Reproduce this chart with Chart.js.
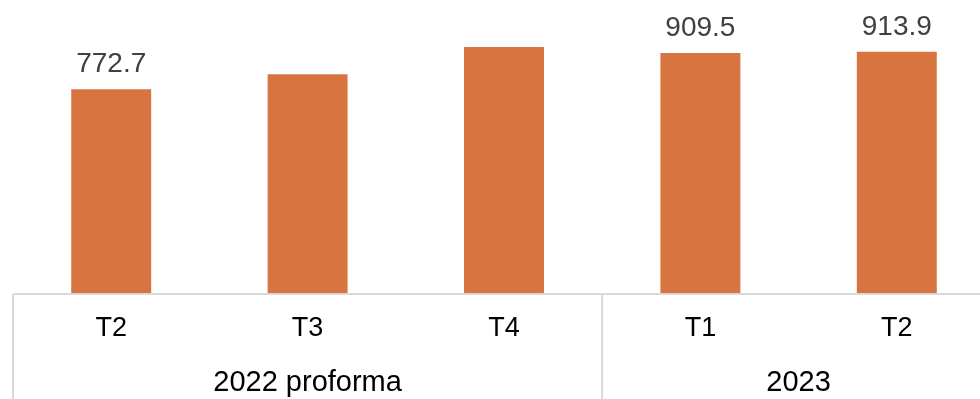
<!DOCTYPE html>
<html>
<head>
<meta charset="utf-8">
<script src="https://cdn.jsdelivr.net/npm/chart.js@4/dist/chart.umd.min.js"></script>
<style>
  html, body { margin: 0; padding: 0; background: #fff; overflow: hidden; }
  #wrap { width: 980px; height: 399px; overflow: hidden; }
</style>
</head>
<body>
<div id="wrap"><canvas id="chart" width="995" height="399"></canvas></div>
<script>
// quarters and their values
const quarters = ['T2', 'T3', 'T4', 'T1', 'T2'];
const values = [772.7, 829, 932, 909.5, 913.9];
// which bars carry a value label in the source
const showValue = [true, false, false, true, true];
// year groups: name and number of quarters in each
const groupNames = ['2022 proforma', '2023'];
const groupSizes = [3, 2];

const lineColor = '#d9d9d9';

const axisLabels = {
    id: 'axisLabels',
    afterDraw(chart) {
        const ctx = chart.ctx;
        const area = chart.chartArea;
        const x = chart.scales.x;
        const step = x.getPixelForValue(1) - x.getPixelForValue(0);
        const H = chart.height;

        ctx.save();
        // axis line and group borders
        ctx.strokeStyle = lineColor;
        ctx.lineWidth = 2;
        ctx.beginPath();
        ctx.moveTo(area.left, area.bottom);
        ctx.lineTo(area.right, area.bottom);
        let idx = 0;
        const edges = [area.left];
        groupSizes.forEach(n => {
            idx += n;
            edges.push(x.getPixelForValue(idx - 1) + step / 2);
        });
        edges.slice(0, -1).forEach(px => {
            ctx.moveTo(px, area.bottom);
            ctx.lineTo(px, H);
        });
        ctx.stroke();

        // quarter labels
        ctx.fillStyle = '#000';
        ctx.textAlign = 'center';
        ctx.textBaseline = 'middle';
        ctx.font = '27px "Liberation Sans", Arial, sans-serif';
        quarters.forEach((q, i) => {
            ctx.fillText(q, x.getPixelForValue(i), area.bottom + 35);
        });

        // group labels
        ctx.font = '29px "Liberation Sans", Arial, sans-serif';
        groupNames.forEach((g, i) => {
            ctx.fillText(g, (edges[i] + edges[i + 1]) / 2, area.bottom + 89);
        });

        // value labels
        const meta = chart.getDatasetMeta(0);
        ctx.fillStyle = '#404040';
        ctx.textBaseline = 'alphabetic';
        ctx.font = '28px "Liberation Sans", Arial, sans-serif';
        meta.data.forEach((bar, i) => {
            if (!showValue[i]) return;
            ctx.fillText(values[i].toFixed(1), bar.x, bar.y - 17);
        });
        ctx.restore();
    }
};

new Chart(document.getElementById('chart'), {
    type: 'bar',
    data: {
        labels: quarters,
        datasets: [{
            data: values,
            backgroundColor: '#d8743f',
            borderWidth: 0,
            barPercentage: 0.407,
            categoryPercentage: 1
        }]
    },
    options: {
        responsive: false,
        animation: false,
        layout: { padding: { left: 13, top: 29, right: 0, bottom: 105 } },
        plugins: { legend: { display: false }, tooltip: { enabled: false } },
        scales: {
            x: { display: false },
            y: { display: false, min: 0, max: 1000 }
        }
    },
    plugins: [axisLabels]
});
</script>
</body>
</html>
